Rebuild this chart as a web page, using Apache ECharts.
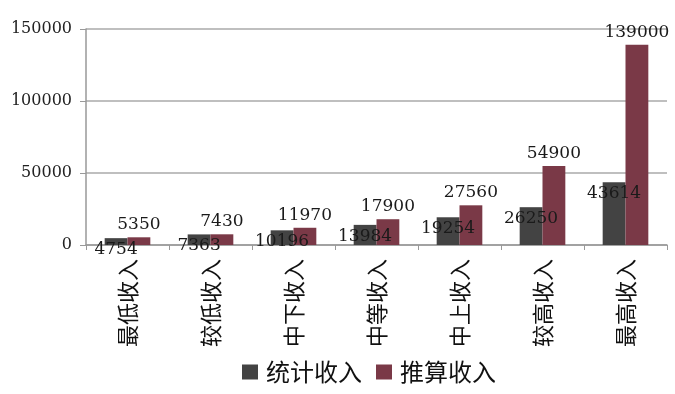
<!DOCTYPE html>
<html><head><meta charset="utf-8">
<script src="https://cdn.jsdelivr.net/npm/echarts@6/dist/echarts.min.js"></script>
<style>html,body{margin:0;padding:0;background:#fff}#c{width:675px;height:394px}</style>
</head><body><div id="c"></div>
<script>
const categories = ['最低收入','较低收入','中下收入','中等收入','中上收入','较高收入','最高收入'];
const statIncome = [4754, 7363, 10196, 13984, 19254, 26250, 43614];
const calcIncome = [5350, 7430, 11970, 17900, 27560, 54900, 139000];
const yTicks = {min: 0, max: 150000, interval: 50000};

const chart = echarts.init(document.getElementById('c'), null, {renderer: 'canvas'});
const numFont = 'DejaVu Serif';
const cjkFont = 'Noto Sans CJK SC';
chart.setOption({
  animation: false,
  backgroundColor: '#fff',
  grid: {left: 86, right: 8, top: 29, bottom: 149, containLabel: false},
  legend: {
    left: 237, top: 355,
    icon: 'rect',
    itemWidth: 16, itemHeight: 15, itemGap: 14,
    textStyle: {fontFamily: cjkFont, fontSize: 24, color: '#111', padding: [0,0,0,3]},
    data: ['统计收入','推算收入']
  },
  xAxis: {
    type: 'category', data: categories,
    axisLine: {lineStyle: {color: '#999', width: 1.5}},
    axisTick: {show: true, length: 5, lineStyle: {color: '#999'}},
    axisLabel: {rotate: 90, margin: 14, fontFamily: cjkFont, fontSize: 22, color: '#111'}
  },
  yAxis: {
    type: 'value', min: yTicks.min, max: yTicks.max, interval: yTicks.interval,
    axisLine: {show: true, lineStyle: {color: '#999', width: 1.5}},
    axisTick: {show: true, length: 6, lineStyle: {color: '#999'}},
    splitLine: {lineStyle: {color: '#aaa', width: 1.5}},
    axisLabel: {margin: 14, fontFamily: numFont, fontSize: 16, color: '#222',
      formatter: function (v) { return String(v); }}
  },
  series: [
    {name: '统计收入', type: 'bar', data: statIncome, barGap: '0%', barCategoryGap: '45%',
     itemStyle: {color: '#434343'},
     label: {show: true, position: 'insideTop', distance: 3, fontFamily: numFont, fontSize: 17, color: '#1a1a1a'}},
    {name: '推算收入', type: 'bar', data: calcIncome, barGap: '0%', barCategoryGap: '45%',
     itemStyle: {color: '#7a3947'},
     label: {show: true, position: 'top', distance: 4, fontFamily: numFont, fontSize: 17, color: '#1a1a1a'}}
  ]
});
</script></body></html>
